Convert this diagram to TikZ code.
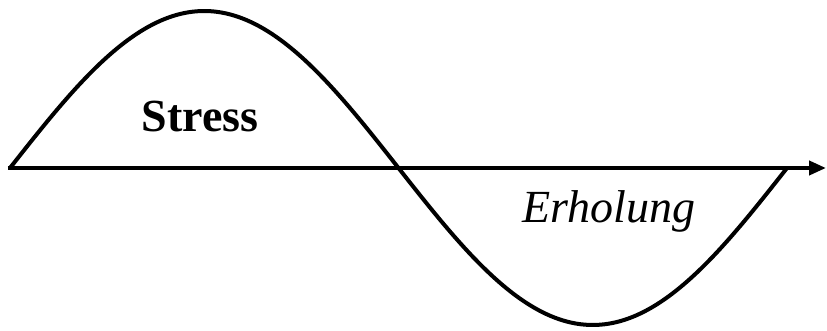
\documentclass[tikz,border=0pt]{standalone}
\usepackage{fontspec}
\setmainfont{Liberation Serif}
\usetikzlibrary{arrows.meta}

\begin{document}
\begin{tikzpicture}[x=0.5pt, y=-0.5pt, line width=2pt,
    label/.style={font=\fontsize{23}{27}\selectfont}]
            \useasboundingbox (0,0) rectangle (827,331);
            \coordinate (start) at (8,168);
            \coordinate (end) at (826,168);
            \draw[-{Triangle[length=8.5pt,width=7pt]}] (start) -- (end);
            \draw[line join=round] plot[domain=0:777, samples=120, smooth] (\x+10, {168-157*sin(\x/777*360)});
            \node[label, font=\fontsize{23}{27}\selectfont\bfseries] (stress) at (200,117) {Stress};
            \node[label, font=\fontsize{23}{27}\selectfont\itshape] (erholung) at (609,211) {Erholung};
        \end{tikzpicture}
\end{document}
